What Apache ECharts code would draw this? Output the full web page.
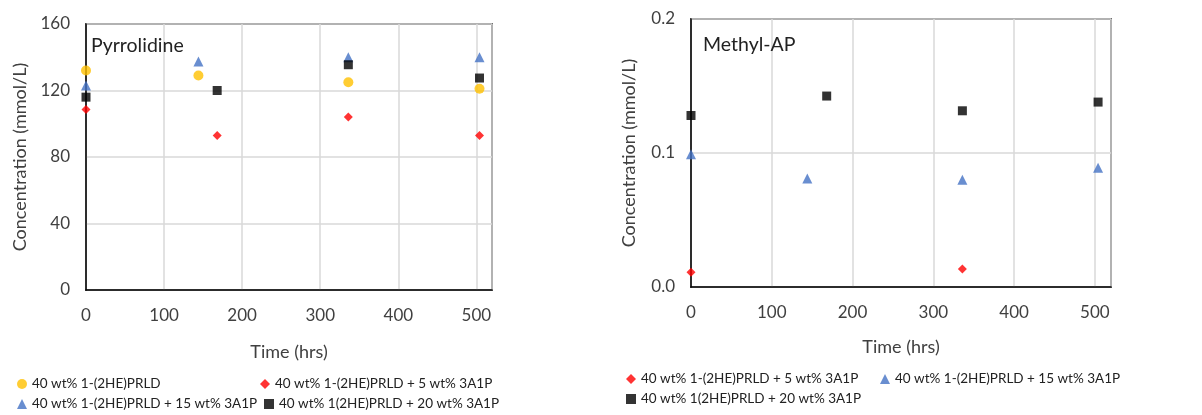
<!DOCTYPE html>
<html>
<head>
<meta charset="utf-8">
<script src="https://cdn.jsdelivr.net/npm/echarts@6/dist/echarts.min.js"></script>
<style>
html,body{margin:0;padding:0;background:#fff;}
#main{width:1202px;height:415px;}
</style>
</head>
<body>
<div id="main"></div>
<script>
//series names
var nameA = '40 wt% 1-(2HE)PRLD';
var nameB = '40 wt% 1-(2HE)PRLD + 5 wt% 3A1P';
var nameC = '40 wt% 1-(2HE)PRLD + 15 wt% 3A1P';
var nameD = '40 wt% 1(2HE)PRLD + 20 wt% 3A1P';

//Pyrrolidine data [time, conc]
var pyrA = [[0, 132], [144, 129], [336, 125], [504, 121]];
var pyrB = [[0, 108.5], [168, 93], [336, 104], [504, 93]];
var pyrC = [[0, 123], [144, 137.5], [336, 140], [504, 140]];
var pyrD = [[0, 116], [168, 120], [336, 135.5], [504, 127.5]];

//Methyl-AP data
var mapB = [[0, 0.011], [336, 0.0135]];
var mapC = [[0, 0.099], [144, 0.081], [336, 0.080], [504, 0.089]];
var mapD = [[0, 0.128], [168, 0.1425], [336, 0.1315], [504, 0.138]];

var colA = '#FFC000', colB = '#FF0000', colC = '#4472C4', colD = '#000000';
var fontName = 'Lato';
var txtCol = '#404040';

var chart = echarts.init(document.getElementById('main'));

function xAx(idx, gap) {
	return {
		gridIndex: idx, type: 'value', min: 0, max: 520, interval: 100,
		name: 'Time (hrs)', nameLocation: 'middle', nameGap: gap,
		nameTextStyle: {fontFamily: fontName, fontSize: 18, color: txtCol},
		axisLine: {lineStyle: {color: '#000', width: 1.5}},
		axisTick: {show: false},
		axisLabel: {margin: 17, fontFamily: fontName, fontSize: 17, color: txtCol, showMaxLabel: false,
			formatter: function (v) { return v % 100 == 0 ? v : ''; }},
		splitLine: {show: true, lineStyle: {color: '#d9d9d9', width: 1.5}}
	};
}
function yAx(idx, max, interval, gap, digits) {
	return {
		gridIndex: idx, type: 'value', min: 0, max: max, interval: interval,
		name: 'Concentration (mmol/L)', nameLocation: 'middle', nameGap: gap,
		nameTextStyle: {fontFamily: fontName, fontSize: 18, color: txtCol},
		axisLine: {show: true, lineStyle: {color: '#000', width: 1.5}},
		axisTick: {show: false},
		axisLabel: {margin: 16, fontFamily: fontName, fontSize: 17, color: txtCol,
			formatter: function (v) { return v.toFixed(digits); }},
		splitLine: {show: true, lineStyle: {color: '#d9d9d9', width: 1.5}}
	};
}
function sc(name, data, idx, symbol, size, color) {
	return {
		name: name, type: 'scatter', xAxisIndex: idx, yAxisIndex: idx,
		data: data, symbol: symbol, symbolSize: size,
		itemStyle: {color: color}
	};
}
function leg(name, icon, x, y) {
	return {
		data: [{name: name, icon: icon}], left: x, top: y,
		itemWidth: 10, itemHeight: 10, itemGap: 4, padding: 0,
		textStyle: {fontFamily: fontName, fontSize: 13.5, color: '#222'}
	};
}

var option = {
	animation: false,
	grid: [
		{left: 86, right: 710, top: 24, bottom: 125, show: true, borderColor: '#000', borderWidth: 1.5},
		{left: 691, right: 91, top: 19, bottom: 128, show: true, borderColor: '#000', borderWidth: 1.5}
	],
	title: [
		{text: 'Pyrrolidine', left: 91, top: 36, padding: 0, textStyle: {fontFamily: fontName, fontSize: 19.5, fontWeight: 'normal', color: '#222'}},
		{text: 'Methyl-AP', left: 703, top: 35, padding: 0, textStyle: {fontFamily: fontName, fontSize: 19.5, fontWeight: 'normal', color: '#222'}}
	],
	legend: [
		leg(nameA, 'circle', 17, 377),
		leg(nameB, 'diamond', 260, 377),
		leg(nameC, 'triangle', 17, 397),
		leg(nameD, 'rect', 264, 397),
		leg(nameB, 'diamond', 626, 372),
		leg(nameC, 'triangle', 880, 372),
		leg(nameD, 'rect', 626, 392)
	],
	xAxis: [xAx(0, 53), xAx(1, 51)],
	yAxis: [yAx(0, 160, 40, 57, 0), yAx(1, 0.2, 0.1, 53, 1)],
	series: [
		sc(nameA, pyrA, 0, 'circle', 10, colA),
		sc(nameB, pyrB, 0, 'diamond', 9, colB),
		sc(nameC, pyrC, 0, 'triangle', 10, colC),
		sc(nameD, pyrD, 0, 'rect', 9, colD),
		sc(nameB, mapB, 1, 'diamond', 9, colB),
		sc(nameC, mapC, 1, 'triangle', 10, colC),
		sc(nameD, mapD, 1, 'rect', 9, colD)
	]
};
chart.setOption(option);
</script>
</body>
</html>
